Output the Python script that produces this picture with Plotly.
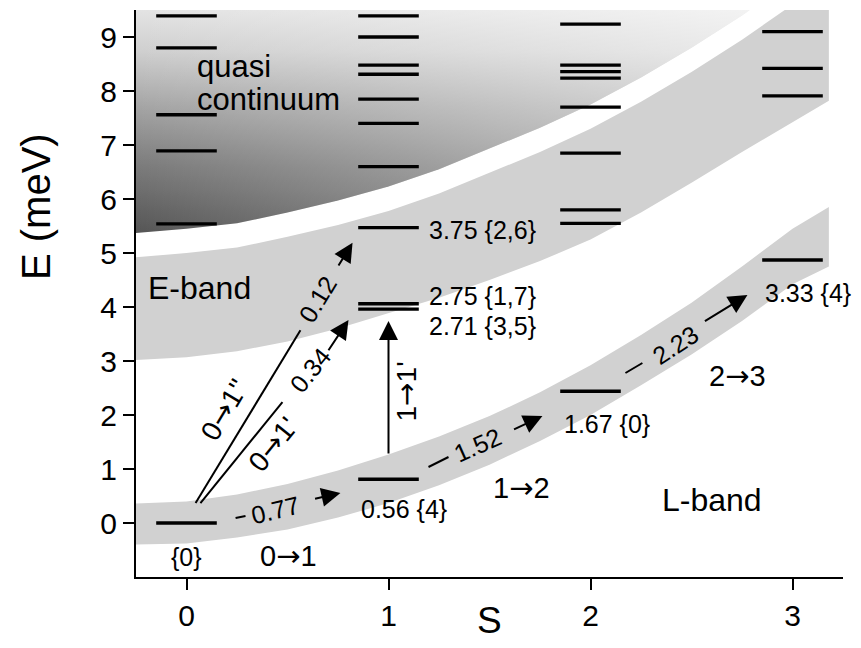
import plotly.graph_objects as go

FONT = "Liberation Sans, Arial, Helvetica, sans-serif"
ARROW = '<span style="font-family:DejaVu Sans">→</span>'

# ---------------- data ----------------
spins = [0, 1, 2, 3]
levels_s0 = [0.0, 5.54, 6.89, 7.56, 8.80, 9.39]
levels_s1 = [0.81, 3.96, 4.06, 5.47, 6.60, 7.40, 7.85, 8.31, 8.48, 9.00, 9.39]
levels_s2 = [2.44, 5.55, 5.80, 6.85, 7.70, 8.24, 8.36, 8.48, 9.24]
levels_s3 = [4.87, 7.91, 8.42, 9.10]
level_halfwidth = 0.15

# band outlines (S, E)
band_s = [-0.25, 0.0, 0.25, 0.5, 0.75, 1.0, 1.25, 1.5, 1.75, 2.0, 2.25, 2.5, 2.75, 3.0, 3.18]
lband_lo = [-0.40, -0.38, -0.27, -0.12, 0.10, 0.37, 0.70, 1.08, 1.52, 2.00, 2.55, 3.12, 3.74, 4.42, 4.75]
lband_hi = [0.36, 0.40, 0.53, 0.72, 0.97, 1.27, 1.60, 1.98, 2.42, 2.92, 3.48, 4.08, 4.75, 5.45, 5.85]
eband_lo = [3.02, 3.07, 3.18, 3.36, 3.60, 3.88, 4.17, 4.50, 4.85, 5.25, 5.75, 6.30, 6.87, 7.42, 7.82]
eband_hi = [4.92, 5.00, 5.10, 5.30, 5.52, 5.78, 6.10, 6.48, 6.87, 7.30, 7.80, 8.35, 8.95, 9.60, 10.10]
cont_s = [-0.25, 0.0, 0.25, 0.5, 0.75, 1.0, 1.25, 1.5, 1.75, 2.0, 2.25, 2.5, 2.75, 3.0]
cont_lo = [5.37, 5.45, 5.55, 5.75, 5.97, 6.23, 6.55, 6.93, 7.32, 7.75, 8.25, 8.80, 9.40, 10.05]
cont_top = 10.2

level_labels = [
    ("0.56 {4}", 0.855, 0.26),
    ("3.75 {2,6}", 1.19, 5.43),
    ("2.75 {1,7}", 1.19, 4.20),
    ("2.71 {3,5}", 1.19, 3.65),
    ("1.67 {0}", 1.86, 1.83),
    ("3.33 {4}", 2.855, 4.26),
]

# transitions: (tail S, tail E, head S, head E)
plain_segments = [
    (0.045, 0.37, 0.564, 3.57),   # 0 -> 1''
    (0.069, 0.37, 0.475, 2.24),   # 0 -> 1'
    (0.243, 0.093, 0.292, 0.13),  # dash 0 -> 1
    (1.198, 1.037, 1.297, 1.222), # dash 1 -> 2
    (2.173, 2.778, 2.257, 2.963), # dash 2 -> 3
]
arrow_segments = [
    (0.748, 4.74, 0.822, 5.19),
    (0.698, 3.17, 0.802, 3.76),
    (1.0, 1.26, 1.0, 3.74),
    (0.629, 0.444, 0.762, 0.556),
    (1.614, 1.722, 1.762, 1.98),
    (2.559, 3.722, 2.777, 4.222),
]
strengths = [("0.77", 0.44, 0.24, -13.5), ("0.12", 0.649, 4.15, -59),
             ("0.34", 0.614, 2.83, -51), ("1.52", 1.44, 1.45, -24),
             ("2.23", 2.42, 3.30, -33)]
transition_names = [("0" + ARROW + "1''", 0.19, 2.10, -59), ("0" + ARROW + "1'", 0.428, 1.46, -51),
                    ("1" + ARROW + "1'", 1.09, 2.43, -90)]
band_transitions = [("0" + ARROW + "1", 0.505, -0.61), ("1" + ARROW + "2", 1.66, 0.65),
                    ("2" + ARROW + "3", 2.73, 2.72)]

fig = go.Figure()

# quasi continuum (gradient, darker towards lower left)
cont_x = cont_s + [cont_s[-1], cont_s[0]]
cont_y = cont_lo + [cont_top, cont_top]
fig.add_trace(go.Scatter(
    x=cont_x, y=cont_y,
    mode="lines", fill="toself", line=dict(width=0, color="rgba(0,0,0,0)"),
    fillgradient=dict(type="vertical", start=5.37, stop=9.6,
                      colorscale=[[0, "#555555"], [0.3, "#7c7c7c"], [0.55, "#a4a4a4"],
                                  [0.8, "#d0d0d0"], [1, "#e6e6e6"]]),
    hoverinfo="skip", showlegend=False))
fig.add_trace(go.Scatter(
    x=cont_x, y=cont_y,
    mode="lines", fill="toself", line=dict(width=0, color="rgba(0,0,0,0)"),
    fillgradient=dict(type="horizontal", start=-0.25, stop=2.8,
                      colorscale=[[0, "rgba(255,255,255,0)"], [1, "rgba(255,255,255,0.55)"]]),
    hoverinfo="skip", showlegend=False))

for lo, hi in [(eband_lo, eband_hi), (lband_lo, lband_hi)]:
    fig.add_trace(go.Scatter(
        x=band_s + band_s[::-1], y=lo + hi[::-1], mode="lines", fill="toself",
        fillcolor="#d1d1d1", line=dict(width=0, color="rgba(0,0,0,0)"),
        hoverinfo="skip", showlegend=False))

# levels
lx, ly = [], []
for s, Es in zip(spins, [levels_s0, levels_s1, levels_s2, levels_s3]):
    for E in Es:
        lx += [s - level_halfwidth, s + level_halfwidth, None]
        ly += [E, E, None]
fig.add_trace(go.Scatter(x=lx, y=ly, mode="lines", line=dict(color="black", width=3.3),
                         hoverinfo="skip", showlegend=False))

# plain transition lines
px_, py_ = [], []
for x0, y0, x1, y1 in plain_segments:
    px_ += [x0, x1, None]
    py_ += [y0, y1, None]
fig.add_trace(go.Scatter(x=px_, y=py_, mode="lines", line=dict(color="black", width=2),
                         hoverinfo="skip", showlegend=False))

ann = []
for x0, y0, x1, y1 in arrow_segments:
    ann.append(dict(x=x1, y=y1, ax=x0, ay=y0, xref="x", yref="y", axref="x", ayref="y",
                    text="", showarrow=True, arrowhead=2, arrowsize=1.9, arrowwidth=2,
                    arrowcolor="black", standoff=0, startstandoff=0, font=dict(size=1)))

def txt(t, x, y, size, angle=0, xanchor="center", xref="x", yref="y"):
    ann.append(dict(x=x, y=y, xref=xref, yref=yref, text=t, showarrow=False,
                    textangle=angle, xanchor=xanchor, yanchor="middle",
                    font=dict(family=FONT, size=size, color="black")))

for t, x, y in level_labels:
    txt(t, x, y, 25, xanchor="left")
txt("{0}", 0.0, -0.63, 25)
for t, x, y, a in strengths:
    txt(t, x, y, 25, a)
for t, x, y, a in transition_names:
    txt(t, x, y, 28, a)
for t, x, y in band_transitions:
    txt(t, x, y, 29)
txt("E-band", 0.062, 4.35, 32)
txt("L-band", 2.6, 0.43, 32)
txt("quasi", 0.04, 8.45, 31, xanchor="left")
txt("continuum", 0.04, 7.84, 31, xanchor="left")
txt("E (meV)", -0.1414, 0.6526, 40, -90, xref="paper", yref="paper")
txt("S", 0.5, -0.077, 37, xref="paper", yref="paper")

axis_common = dict(showgrid=False, zeroline=False, showline=True, linewidth=2,
                   linecolor="black", ticks="outside", ticklen=11, tickwidth=2,
                   tickcolor="black", tickfont=dict(family=FONT, size=30, color="black"))
fig.update_layout(
    width=861, height=648, margin=dict(l=136, r=18, t=10, b=71),
    paper_bgcolor="white", plot_bgcolor="white",
    xaxis=dict(range=[-0.25, 3.25], tickvals=spins, **axis_common),
    yaxis=dict(range=[-1, 9.5], tickvals=list(range(10)), **axis_common),
    annotations=ann,
)
fig.write_html("out.html")
